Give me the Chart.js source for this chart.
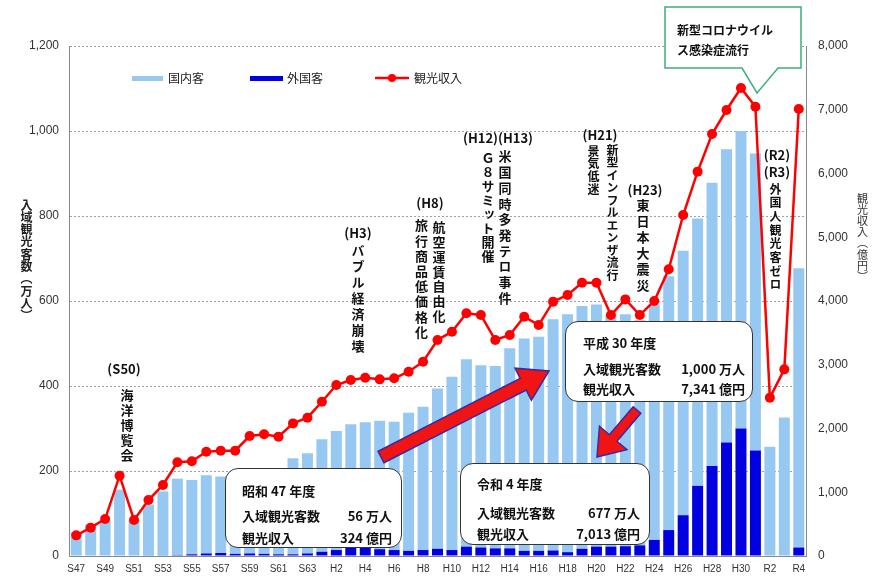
<!DOCTYPE html>
<html>
<head>
<meta charset="utf-8">
<script src="https://cdn.jsdelivr.net/npm/chart.js@4.4.0/dist/chart.umd.min.js"></script>
<style>
body{margin:0;background:#fff;}
#wrap{position:relative;width:879px;height:580px;overflow:hidden;font-family:"Noto Sans CJK JP",sans-serif;}
#c{position:absolute;left:0;top:0;}
#ov{position:absolute;left:0;top:0;}
.t{position:absolute;font-weight:bold;color:#111;white-space:nowrap;line-height:1;}
.v{position:absolute;writing-mode:vertical-rl;text-orientation:upright;font-weight:bold;color:#111;line-height:1;white-space:nowrap;}
.box{position:absolute;background:#fff;border:1.5px solid #333;border-radius:13px;box-sizing:border-box;}
.sw{position:absolute;height:5px;}
</style>
</head>
<body>
<div id="wrap">
<canvas id="c" width="879" height="580"></canvas>
<svg id="ov" width="879" height="580"></svg>
</div>
<script>
// 年度
var years = ['S47','S48','S49','S50','S51','S52','S53','S54','S55','S56','S57','S58','S59','S60','S61','S62','S63',
  'H1','H2','H3','H4','H5','H6','H7','H8','H9','H10','H11','H12','H13','H14','H15','H16','H17','H18','H19','H20',
  'H21','H22','H23','H24','H25','H26','H27','H28','H29','H30','R1','R2','R3','R4'];
// 国内客 (万人)
var domestic = [56,74,84,156,84,120,151,180,175,184,180,190,194,193,198,226,236,
  265,280,290,295,302,302,325,337,377,408,441,429,429,471,500,504,544,560,571,570,
  545,546,530,554,597,622,629,666,690,700,699,257,326,657];
// 外国客 (万人)
var foreign = [0,0,0,0,0,1,1,2,4,6,7,5,6,5,4,4,6,
  10,14,20,20,16,14,12,14,17,14,22,20,18,18,12,12,13,9,17,22,
  22,23,25,38,61,96,165,212,267,300,248,0,0,20];
// 観光収入 (億円)
var revenue = [324,444,580,1260,565,878,1114,1470,1485,1636,1652,1652,1882,1909,1872,2080,2170,
  2420,2682,2760,2797,2771,2787,2891,3048,3388,3519,3807,3780,3388,3467,3754,3623,3990,4094,4287,4287,
  3780,4025,3780,4000,4497,5349,6029,6619,6996,7341,7048,2484,2928,7013];

var tickFont = {family:'Liberation Sans', size:12};

new Chart(document.getElementById('c'), {
  type: 'bar',
  data: {
    labels: years,
    datasets: [
      {type:'line', label:'観光収入', data:revenue, yAxisID:'y1', borderColor:'#ff0000', backgroundColor:'#ff0000',
        borderWidth:2.5, pointRadius:5, pointHoverRadius:5, pointBorderWidth:0, tension:0, order:1},
      {label:'外国客', data:foreign, yAxisID:'y', backgroundColor:'#0000e0', stack:'a', order:2},
      {label:'国内客', data:domestic, yAxisID:'y', backgroundColor:'#96c8f2', stack:'a', order:3}
    ]
  },
  options: {
    responsive:false,
    animation:false,
    layout:{padding:{top:46, left:0, right:0, bottom:0}},
    plugins:{legend:{display:false}, tooltip:{enabled:false}},
    datasets:{bar:{categoryPercentage:1, barPercentage:0.76}},
    scales:{
      x:{
        stacked:true,
        grid:{display:false, drawTicks:false},
        border:{color:'#888', width:1},
        ticks:{autoSkip:false, maxRotation:0, minRotation:0, padding:7, color:'#333', font:{family:'Liberation Sans', size:10},
          callback:function(v, i){ return i % 2 == 0 ? this.getLabelForValue(v) : ''; }},
        afterFit:function(s){ s.height = 24; }
      },
      y:{
        stacked:true, min:0, max:1200,
        grid:{color:'#a0a0a0', lineWidth:1, drawTicks:false},
        border:{color:'#888', width:1, dash:[2,2]},
        ticks:{stepSize:200, padding:10, color:'#333', font:tickFont,
          callback:function(v){ return v.toLocaleString('en-US'); }},
        afterFit:function(s){ s.width = 69; }
      },
      y1:{
        position:'right', min:0, max:8000,
        grid:{display:false, drawTicks:false},
        border:{color:'#888', width:1},
        ticks:{stepSize:1000, padding:12, color:'#333', font:tickFont,
          callback:function(v){ return v.toLocaleString('en-US'); }},
        afterFit:function(s){ s.width = 73; }
      }
    }
  }
});

// ---- overlays (text, boxes, arrows) ----
var wrap = document.getElementById('wrap');
var svg = document.getElementById('ov');
var NS = 'http://www.w3.org/2000/svg';

function txt(s, x, y, size, align, extra){
  var d = document.createElement('div');
  d.className = 't';
  d.textContent = s;
  d.style.left = x + 'px';
  d.style.top = y + 'px';
  d.style.fontSize = size + 'px';
  var tx = align == 'center' ? '-50%' : (align == 'right' ? '-100%' : '0');
  d.style.transform = 'translate(' + tx + ',-50%)';
  if (extra) d.style.cssText += extra;
  wrap.appendChild(d);
  return d;
}
function vtxt(s, cx, top, size, step, extra){
  var d = document.createElement('div');
  d.className = 'v';
  d.textContent = s;
  d.style.left = (cx - size / 2) + 'px';
  d.style.top = top + 'px';
  d.style.fontSize = size + 'px';
  d.style.letterSpacing = (step - size) + 'px';
  if (extra) d.style.cssText += extra;
  wrap.appendChild(d);
  return d;
}
function box(x1, y1, x2, y2){
  var d = document.createElement('div');
  d.className = 'box';
  d.style.left = x1 + 'px'; d.style.top = y1 + 'px';
  d.style.width = (x2 - x1) + 'px'; d.style.height = (y2 - y1) + 'px';
  wrap.appendChild(d);
}
function arrow(x1, y1, x2, y2, sw, hl, hw){
  var dx = x2 - x1, dy = y2 - y1, L = Math.hypot(dx, dy);
  var ux = dx / L, uy = dy / L, nx = -uy, ny = ux;
  var bx = x2 - ux * hl, by = y2 - uy * hl;
  var p = [[x1+nx*sw,y1+ny*sw],[bx+nx*sw,by+ny*sw],[bx+nx*hw,by+ny*hw],[x2,y2],
           [bx-nx*hw,by-ny*hw],[bx-nx*sw,by-ny*sw],[x1-nx*sw,y1-ny*sw]];
  var pg = document.createElementNS(NS, 'polygon');
  pg.setAttribute('points', p.map(function(q){ return q.join(','); }).join(' '));
  pg.setAttribute('fill', '#f01414');
  pg.setAttribute('stroke', '#3a2aa0');
  pg.setAttribute('stroke-width', '1.5');
  pg.setAttribute('stroke-linejoin', 'miter');
  svg.appendChild(pg);
}

// legend
function swatch(x1, x2, y, col){
  var d = document.createElement('div');
  d.className = 'sw';
  d.style.left = x1 + 'px'; d.style.top = (y - 2.5) + 'px';
  d.style.width = (x2 - x1) + 'px'; d.style.background = col;
  wrap.appendChild(d);
}
swatch(132, 163, 78, '#96c8f2');
txt('国内客', 168, 78, 12, 'left', 'font-weight:normal;color:#222;');
swatch(250, 283, 78, '#0000e0');
txt('外国客', 287, 78, 12, 'left', 'font-weight:normal;color:#222;');
var ll = document.createElementNS(NS, 'line');
ll.setAttribute('x1', 375); ll.setAttribute('x2', 409); ll.setAttribute('y1', 78); ll.setAttribute('y2', 78);
ll.setAttribute('stroke', '#ff0000'); ll.setAttribute('stroke-width', 2.5);
svg.appendChild(ll);
var lc = document.createElementNS(NS, 'circle');
lc.setAttribute('cx', 392); lc.setAttribute('cy', 78); lc.setAttribute('r', 4); lc.setAttribute('fill', '#ff0000');
svg.appendChild(lc);
txt('観光収入', 414, 78, 12, 'left', 'font-weight:normal;color:#222;');

// axis titles
vtxt('入域観光客数（万人）', 26, 199, 12, 12.3, 'text-orientation:mixed;color:#222;');
vtxt('観光収入（億円）', 862, 193, 11, 11.2, 'text-orientation:mixed;color:#333;font-weight:normal;');

// event notes
txt('(S50)', 124, 368, 13, 'center');
vtxt('海洋博覧会', 127, 389, 13, 15);
txt('(H3)', 358, 232, 13, 'center');
vtxt('バブル経済崩壊', 358, 244, 13, 16);
txt('(H8)', 430, 202, 13, 'center');
vtxt('航空運賃自由化', 439, 221, 13, 14.7);
vtxt('旅行商品低価格化', 421.5, 219, 13, 15.2);
txt('(H12)(H13)', 498, 137, 13, 'center');
vtxt('Ｇ８サミット開催', 488, 152, 13, 14);
vtxt('米国同時多発テロ事件', 505, 150, 13, 15.7);
txt('(H21)', 600, 134, 13, 'center');
vtxt('景気低迷', 593, 145, 12, 12.7);
vtxt('新型インフルエンザ流行', 612, 144, 12, 12.5);
txt('(H23)', 645, 189, 13, 'center');
vtxt('東日本大震災', 643, 199, 13, 16);
txt('(R2)', 777, 154, 13, 'center');
txt('(R3)', 777, 171, 13, 'center');
vtxt('外国人観光客ゼロ', 775, 183, 12, 13.7);

// covid callout
var cp = document.createElementNS(NS, 'path');
cp.setAttribute('d', 'M665,7 H801 V68 H778 L757,93 L742,68 H665 Z');
cp.setAttribute('fill', '#fff');
cp.setAttribute('stroke', '#3daf7a');
cp.setAttribute('stroke-width', '1.5');
svg.appendChild(cp);
txt('新型コロナウイル', 677, 30, 12, 'left');
txt('ス感染症流行', 677, 50, 12, 'left');

// arrows
arrow(381, 457, 549, 371, 6.5, 29, 18);
arrow(637, 410, 597, 457, 5, 25, 18);

// info boxes
box(225, 468, 402, 548);
txt('昭和 47 年度', 242, 490, 13, 'left');
txt('入域観光客数', 242, 515, 13, 'left');
txt('56 万人', 392, 515, 13, 'right');
txt('観光収入', 242, 537, 13, 'left');
txt('324 億円', 392, 537, 13, 'right');

box(460, 463, 650, 545);
txt('令和 4 年度', 477, 483, 13, 'left');
txt('入域観光客数', 477, 512, 13, 'left');
txt('677 万人', 640, 512, 13, 'right');
txt('観光収入', 477, 533, 13, 'left');
txt('7,013 億円', 640, 533, 13, 'right');

box(565, 321, 753, 402);
txt('平成 30 年度', 583, 342, 13, 'left');
txt('入域観光客数', 583, 368, 13, 'left');
txt('1,000 万人', 745, 368, 13, 'right');
txt('観光収入', 583, 388, 13, 'left');
txt('7,341 億円', 745, 388, 13, 'right');
</script>
</body>
</html>
